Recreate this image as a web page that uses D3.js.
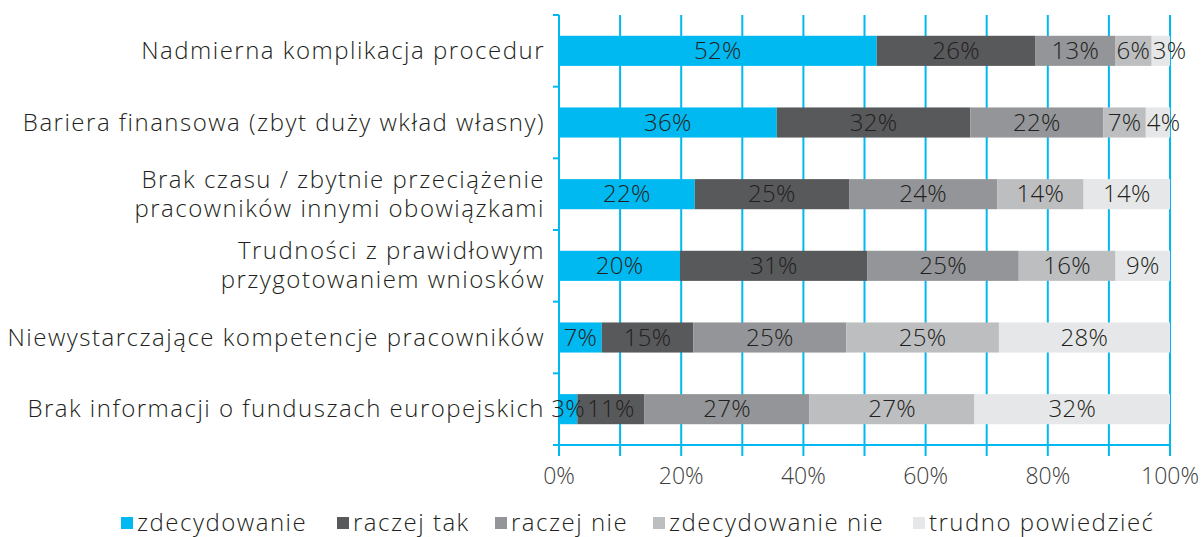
<!DOCTYPE html>
<html>
<head>
<meta charset="utf-8">
<script src="https://cdn.jsdelivr.net/npm/d3@7"></script>
<style>
  body { margin: 0; background: #fff; }
  svg text { font-family: "Open Sans", "Noto Sans", sans-serif; font-weight: 300; fill: #231f20; }
</style>
</head>
<body>
<svg id="chart" width="1203" height="537"></svg>
<script>
// kategorie (od góry)
let categories = [
  ['Nadmierna komplikacja procedur'],
  ['Bariera finansowa (zbyt duży wkład własny)'],
  ['Brak czasu / zbytnie przeciążenie', 'pracowników innymi obowiązkami'],
  ['Trudności z prawidłowym', 'przygotowaniem wniosków'],
  ['Niewystarczające kompetencje pracowników'],
  ['Brak informacji o funduszach europejskich']
];
let seriesNames = ['zdecydowanie', 'raczej tak', 'raczej nie', 'zdecydowanie nie', 'trudno powiedzieć'];
let zdecydowanie    = [52, 36, 22, 20, 7, 3];
let raczejTak       = [26, 32, 25, 31, 15, 11];
let raczejNie       = [13, 22, 24, 25, 25, 27];
let zdecydowanieNie = [6, 7, 14, 16, 25, 27];
let trudno          = [3, 4, 14, 9, 28, 32];
let ticks = [0, 20, 40, 60, 80, 100];
let colors = ['#00b9f1', '#58595b', '#939598', '#bcbec0', '#e6e7e8'];

let series = [zdecydowanie, raczejTak, raczejNie, zdecydowanieNie, trudno];
let svg = d3.select('#chart');
let x = d3.scaleLinear().domain([0, 100]).range([559, 1170]);
let y = d3.scaleBand().domain(d3.range(categories.length)).range([15, 445]).paddingInner(0.58).paddingOuter(0.29);
let bandY = d3.scaleBand().domain(d3.range(categories.length)).range([15, 445]);
let grid = '#00b9f1';

// siatka pionowa
svg.append('g').selectAll('line').data(d3.range(0, 101, 10)).enter()
  .append('line')
  .attr('x1', d => x(d)).attr('x2', d => x(d))
  .attr('y1', 15).attr('y2', 456)
  .attr('stroke', grid).attr('stroke-width', 2);

// oś lewa z kreskami między kategoriami
svg.append('line').attr('x1', x(0)).attr('x2', x(0)).attr('y1', 15).attr('y2', 445)
  .attr('stroke', grid).attr('stroke-width', 2);
svg.append('g').selectAll('line').data(d3.range(categories.length + 1)).enter()
  .append('line')
  .attr('x1', x(0) - 6).attr('x2', x(0))
  .attr('y1', i => i < categories.length ? bandY(i) : 445)
  .attr('y2', i => i < categories.length ? bandY(i) : 445)
  .attr('stroke', grid).attr('stroke-width', 2);
svg.append('line').attr('x1', x(0) - 6).attr('x2', x(100) + 1).attr('y1', 445).attr('y2', 445)
  .attr('stroke', grid).attr('stroke-width', 2);

// słupki skumulowane (znormalizowane do 100%)
let rows = categories.map((c, i) => {
  let vals = series.map(s => s[i]), sum = d3.sum(vals), acc = 0;
  return vals.map((v, k) => {
    let seg = {row: i, k: k, v: v, x0: acc / sum * 100, x1: (acc + v) / sum * 100};
    acc += v;
    return seg;
  });
});
let segs = rows.flat();
svg.append('g').selectAll('rect').data(segs).enter()
  .append('rect')
  .attr('x', d => x(d.x0))
  .attr('width', d => x(d.x1) - x(d.x0))
  .attr('y', d => y(d.row))
  .attr('height', y.bandwidth())
  .attr('fill', d => colors[d.k]);
// wąski ostatni segment: etykieta od początku segmentu, wystaje za 100%
let narrow = d => d.k === series.length - 1 && x(d.x1) - x(d.x0) < 30;
svg.append('g').selectAll('text').data(segs).enter()
  .append('text')
  .attr('x', d => narrow(d) ? x(d.x0) + 1 : (x(d.x0) + x(d.x1)) / 2)
  .attr('y', d => y(d.row) + y.bandwidth() / 2 + 8)
  .attr('text-anchor', d => narrow(d) ? 'start' : 'middle')
  .attr('font-size', 24)
  .style('letter-spacing', '0.3px')
  .text(d => d.v + '%');

// etykiety kategorii
let labels = svg.append('g').selectAll('text').data(categories).enter()
  .append('text')
  .attr('text-anchor', 'end')
  .attr('font-size', 24)
  .style('letter-spacing', '1.5px')
  .attr('y', (d, i) => y(i) + y.bandwidth() / 2 + 8 - (d.length - 1) * 14.5);
labels.selectAll('tspan').data(d => d).enter()
  .append('tspan')
  .attr('x', 545)
  .attr('dy', (d, j) => j ? 29 : 0)
  .text(d => d);

// etykiety osi X
svg.append('g').selectAll('text').data(ticks).enter()
  .append('text')
  .attr('x', d => x(d)).attr('y', 484)
  .attr('text-anchor', 'middle')
  .attr('font-size', 23)
  .style('fill', '#404041')
  .text(d => d + '%');

// legenda
let legendX = [121, 337, 495, 653, 913];
let leg = svg.append('g').selectAll('g').data(seriesNames).enter()
  .append('g')
  .attr('transform', (d, i) => `translate(${legendX[i]},517)`);
leg.append('rect').attr('width', 12).attr('height', 12).attr('fill', (d, i) => colors[i]);
leg.append('text').attr('x', 16).attr('y', 14).attr('font-size', 24).style('letter-spacing', '1.5px').text(d => d);
</script>
</body>
</html>
